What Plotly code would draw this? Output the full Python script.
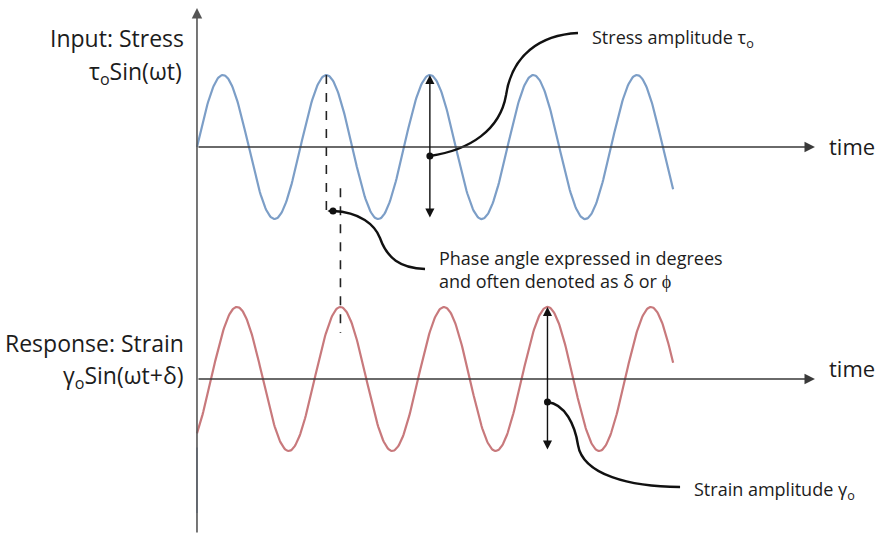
import numpy as np
import plotly.graph_objects as go

# ---- signal description -------------------------------------------------
stress_amplitude = 1.0          # tau_o
strain_amplitude = 1.0          # gamma_o
phase_lag_deg = 49.0            # delta, in degrees
cycles_shown = 4.6              # how many periods of each wave are drawn
samples = 600

t = np.linspace(0.0, cycles_shown, samples)          # time, in periods
delta = np.deg2rad(phase_lag_deg)
stress = stress_amplitude * np.sin(2 * np.pi * t)
strain = strain_amplitude * np.sin(2 * np.pi * t - delta)

# key instants used by the annotations
stress_peak_phase = 1.25        # peak picked for the phase-angle marker
stress_peak_amp = 2.25          # peak carrying the stress-amplitude arrow
strain_peak_amp = 3.25          # peak carrying the strain-amplitude arrow
lag_cycles = phase_lag_deg / 360.0

# axis extents (time units / amplitude units)
time_axis_end = 5.97
x_range = [-1.903, 6.618]
y_stress_range = [-5.375, 2.042]
y_strain_range = [-2.153, 5.264]

# ---- styles ---------------------------------------------------------------
BLUE = "#7C9EC7"
RED = "#C8797C"
INK = "#1c1c1c"
AXIS = "#3a3a3a"
FONT = "Open Sans"

fig = go.Figure()

fig.add_trace(go.Scatter(x=t, y=stress, mode="lines",
                         line=dict(color=BLUE, width=2.2),
                         hoverinfo="skip", showlegend=False))
fig.add_trace(go.Scatter(x=t, y=strain, mode="lines", yaxis="y2",
                         line=dict(color=RED, width=2.2),
                         hoverinfo="skip", showlegend=False))

# ---- axes drawn as arrows --------------------------------------------------
annotations = []


def arrow(x0, y0, x1, y1, yref="y", side="end", width=1.5, size=1.0,
          head=2, color=AXIS):
    """Arrow from (x0, y0) to (x1, y1) in data units."""
    yr = yref
    annotations.append(dict(
        x=x1, y=y1, ax=x0, ay=y0, xref="x", yref=yr, axref="x", ayref=yr,
        text="", showarrow=True, arrowhead=head, startarrowhead=head,
        arrowside=side, arrowwidth=width, arrowsize=size,
        startarrowsize=size, arrowcolor=color, standoff=0, startstandoff=0))


# time axes
arrow(0.0, 0.0, time_axis_end, 0.0, "y", width=1.6, size=1.3)
arrow(0.0, 0.0, time_axis_end, 0.0, "y2", width=1.6, size=1.3)
# vertical axis
arrow(0.0, y_stress_range[0], 0.0, 1.93, "y", width=1.6, size=1.3,
      color="#555555")

# faint blue segment sitting on the lower part of the vertical axis
fig.add_shape(type="line", xref="x", yref="y2", x0=0.0, x1=0.0,
              y0=-0.95, y1=-1.86, line=dict(color="#8aa6cc", width=1.6))

# amplitude double arrows
arrow(stress_peak_amp, -stress_amplitude, stress_peak_amp, stress_amplitude,
      "y", side="end+start", width=1.4, size=1.3, color="#111111")
x_sa = strain_peak_amp + lag_cycles
arrow(x_sa, -strain_amplitude, x_sa, strain_amplitude,
      "y2", side="end+start", width=1.4, size=1.3, color="#111111")

# phase-angle dashed guides
fig.add_shape(type="line", xref="x", yref="y",
              x0=stress_peak_phase, x1=stress_peak_phase,
              y0=stress_amplitude, y1=-1.0,
              line=dict(color="#222222", width=1.6, dash="dash"))
x_lag = stress_peak_phase + lag_cycles
fig.add_shape(type="line", xref="x", yref="y2",
              x0=x_lag, x1=x_lag, y0=2.65, y1=0.64,
              line=dict(color="#222222", width=1.6, dash="dash"))
arrow(1.314, -0.889, stress_peak_phase + 0.01, -0.889, "y",
      width=1.3, size=1.0, color="#111111")

# ---- callout curves ----------------------------------------------------------
stress_callout = [(2.25, -0.125), (2.638, -0.042), (2.928, 0.236),
                  (2.986, 0.722), (3.043, 1.278), (3.314, 1.556),
                  (3.681, 1.583)]
phase_callout = [(1.314, -0.889), (1.575, -0.903), (1.720, -1.083),
                 (1.768, -1.264), (1.836, -1.542), (1.961, -1.681),
                 (2.203, -1.694)]
strain_callout = [(x_sa, -0.319), (3.556, -0.347), (3.652, -0.639),
                  (3.681, -0.917), (3.729, -1.333), (4.184, -1.5),
                  (4.667, -1.5)]


def bezier_path(pts):
    p = ["M {} {}".format(*pts[0])]
    p.append("C {} {}, {} {}, {} {}".format(*pts[1], *pts[2], *pts[3]))
    p.append("C {} {}, {} {}, {} {}".format(*pts[4], *pts[5], *pts[6]))
    return " ".join(p)


for pts, yr in [(stress_callout, "y"), (phase_callout, "y"),
                (strain_callout, "y2")]:
    fig.add_shape(type="path", xref="x", yref=yr, path=bezier_path(pts),
                  line=dict(color="#111111", width=2.4))

# start dots of the callouts
fig.add_trace(go.Scatter(x=[stress_callout[0][0], phase_callout[0][0]],
                         y=[stress_callout[0][1], phase_callout[0][1]],
                         mode="markers", marker=dict(color="#111111", size=7),
                         hoverinfo="skip", showlegend=False))
fig.add_trace(go.Scatter(x=[strain_callout[0][0]], y=[strain_callout[0][1]],
                         yaxis="y2", mode="markers",
                         marker=dict(color="#111111", size=7),
                         hoverinfo="skip", showlegend=False))

# ---- text --------------------------------------------------------------------


def label(x, y, text, yref="y", size=23, xanchor="right"):
    annotations.append(dict(x=x, y=y, xref="x", yref=yref, text=text,
                            showarrow=False, xanchor=xanchor,
                            yanchor="middle", align="left",
                            font=dict(family=FONT, size=size, color=INK)))


label(-0.106, 1.514, "Input: Stress")
label(-0.126, 1.042, "τ<sub>o</sub>Sin(ωt)")
label(-0.106, 0.50, "Response: Strain", "y2")
label(-0.106, 0.028, "γ<sub>o</sub>Sin(ωt+δ)", "y2")
label(6.087, 0.02, "time", size=22, xanchor="left")
label(6.087, 0.153, "time", "y2", size=22, xanchor="left")
label(3.797, 1.514, "Stress amplitude τ<sub>o</sub>", size=18,
      xanchor="left")
label(2.319, -1.708,
      "Phase angle expressed in degrees<br>and often denoted as δ or ϕ",
      size=18, xanchor="left")
label(4.783, -1.542, "Strain amplitude γ<sub>o</sub>", "y2", size=18,
      xanchor="left")

fig.update_layout(
    width=882, height=534, autosize=False,
    margin=dict(l=0, r=0, t=0, b=0, pad=0),
    paper_bgcolor="white", plot_bgcolor="white",
    annotations=annotations,
    xaxis=dict(range=x_range, visible=False, fixedrange=True),
    yaxis=dict(range=y_stress_range, visible=False, fixedrange=True),
    yaxis2=dict(range=y_strain_range, visible=False, fixedrange=True,
                overlaying="y"),
)

fig.write_html("out.html")
